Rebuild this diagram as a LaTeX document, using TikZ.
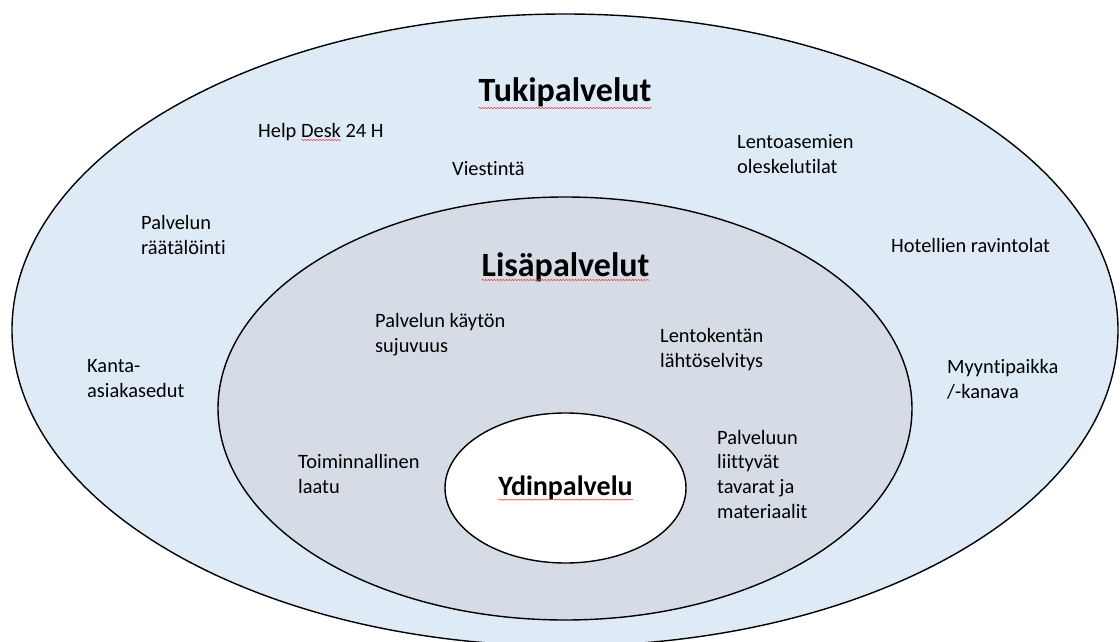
\documentclass[tikz,border=0pt]{standalone}
\usepackage{fontspec}
\setmainfont{Carlito}[Ligatures = NoCommon]
\usetikzlibrary{shapes.geometric}
\usetikzlibrary{decorations.pathmorphing}
\definecolor{tukiblue}{RGB}{222,235,247}
\definecolor{lisagray}{RGB}{214,220,229}
\tikzset{ring/.style = {ellipse, draw = black, line width = 1.4pt, inner sep = 0pt},
         item/.style = {anchor = base west, align = left, inner sep = 0pt,
                        font = \fontsize{20.4}{24.6}\selectfont},
         heading/.style = {anchor = base, inner sep = 0pt,
                           font = \fontsize{34}{40}\selectfont\bfseries},
         spellmark/.style = {draw = red!80!white, line width = 0.5pt, decorate,
                             decoration = {snake, amplitude = 0.6pt, segment length = 3pt}}}

\begin{document}
\begin{tikzpicture}[x = 1pt, y = -1pt]
    \useasboundingbox (0, 0) rectangle (1120, 642);
    \node [ring, fill = tukiblue, minimum width = 1106pt, minimum height = 632pt] (tuki) at (565, 330) {};
    \node [ring, fill = lisagray, minimum width = 694pt, minimum height = 423pt] (lisa) at (565, 408.5) {};
    \node [ring, fill = white, minimum width = 241pt, minimum height = 150pt] (ydin) at (565.5, 488) {};

    % base of a multi-line item is its last line
    \node [heading] (tukiotsikko) at (565, 102) {Tukipalvelut};
    \node [heading] (lisaotsikko) at (565.5, 276) {Lisäpalvelut};
    \node [heading, anchor = center, font = \fontsize{28}{34}\selectfont\bfseries] (ydinotsikko) at (ydin.center) {Ydinpalvelu};

    \node [item] (helpdesk) at (258, 137) {Help Desk 24 H};
    \node [item] (viestinta) at (452, 175.5) {Viestintä};
    \node [item] (oleskelu) at (737, 173) {Lentoasemien\\oleskelutilat};
    \node [item] (raataloin) at (141, 254) {Palvelun\\räätälöinti};
    \node [item] (ravintolat) at (891, 252.5) {Hotellien ravintolat};
    \node [item] (kanta) at (87, 397) {Kanta-\\asiakasedut};
    \node [item] (myynti) at (947, 398.5) {Myyntipaikka\\/-kanava};

    \node [item] (sujuvuus) at (375, 352) {Palvelun käytön\\sujuvuus};
    \node [item] (lahto) at (660, 367) {Lentokentän\\lähtöselvitys};
    \node [item] (laatu) at (298, 493) {Toiminnallinen\\laatu};
    \node [item] (tavarat) at (717, 518) {Palveluun\\liittyvät\\tavarat ja\\materiaalit};

    \draw [spellmark] ([yshift = -6pt]tukiotsikko.base west) -- ([yshift = -6pt]tukiotsikko.base east);
    \draw [spellmark] ([yshift = -4pt]lisaotsikko.base west) -- ([yshift = -4pt]lisaotsikko.base east);
    \draw [spellmark] ([yshift = -4pt]ydinotsikko.base west) -- ([yshift = -4pt]ydinotsikko.base east);
    \draw [spellmark] ([xshift = 43pt, yshift = -3pt]helpdesk.base west) -- +(40pt, 0);
\end{tikzpicture}
\end{document}
